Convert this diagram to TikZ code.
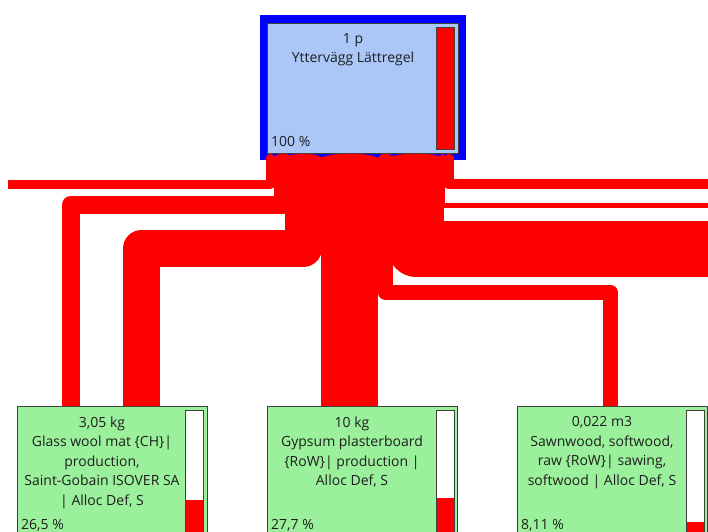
\documentclass[tikz,border=0pt]{standalone}
\usepackage{fontspec}
\setmainfont{Open Sans}
\definecolor{fred}{RGB}{255,0,0}
\definecolor{bblue}{RGB}{0,0,255}
\definecolor{topfill}{RGB}{170,199,248}
\definecolor{boxgreen}{RGB}{155,240,155}
\definecolor{edge}{RGB}{64,64,64}
\definecolor{txt}{RGB}{30,30,30}
\tikzset{
  flow/.style={draw=fred, line join=round, line cap=butt},
  gbox/.style={draw=edge, line width=0.9pt, fill=boxgreen, minimum width=190pt, minimum height=134pt, anchor=north west, inner sep=0pt, outer sep=0pt},
  barbox/.style={draw=edge, line width=0.9pt, fill=white, minimum width=18pt, minimum height=122pt, anchor=north west, inner sep=0pt, outer sep=0pt,
    path picture={\fill[fred] (path picture bounding box.south west) rectangle ([yshift=#1]path picture bounding box.south east);}},
  lbl/.style={font=\fontsize{14}{19.5}\selectfont, align=center, anchor=north, inner sep=0pt, text=txt},
  pct/.style={font=\fontsize{14}{15}\selectfont, anchor=base west, inner sep=0pt, text=txt}
}
\begin{document}
\begin{tikzpicture}[x=1pt,y=-1pt]
\useasboundingbox (0,0) rectangle (708,531);
\clip (0,0) rectangle (708,531);
% top process
\node[fill=bblue, minimum width=206pt, minimum height=145pt, anchor=north west, inner sep=0pt, outer sep=0pt] (topouter) at (260,15) {};
\node[draw=edge, line width=0.9pt, fill=topfill, minimum width=191pt, minimum height=130pt, anchor=north west, inner sep=0pt, outer sep=0pt] (top) at (267,23) {};
\node[barbox=122pt] (topbar) at (436,27) {};
\node[lbl] (toptxt) at (353,33) {1 p\\Yttervägg Lättregel};
\node[pct] (toppct) at (271,146) {100 \%};
% flow start coordinates
\coordinate (l1) at (270.5,158);
\coordinate (l2) at (283,158);
\coordinate (l3) at (303,158);
\coordinate (g0) at (349.5,158);
\coordinate (s0) at (385.5,158);
\coordinate (rb) at (416,158);
\coordinate (r2) at (442,158);
\coordinate (r1) at (448.5,158);
\coordinate (l1end) at (8,184);
\coordinate (rbend) at (716,249);
\coordinate (r2end) at (716,205);
\coordinate (r1end) at (716,184);
% lower processes
\node[gbox] (glass) at (17,406) {};
\node[gbox] (gyp) at (267,406) {};
\node[gbox] (sawn) at (517,406) {};
% flows
\draw[flow, line width=9pt] (l1) -- (l1 |- l1end) -- (l1end);
\draw[flow, line width=18pt] (l2) -- (283,205) -- (70.5,205) -- (70.5,0 |- glass.north);
\draw[flow, line width=37pt] (l3) -- (303,248.5) -- (141.5,248.5) -- (141.5,0 |- glass.north);
\draw[flow, line width=57pt] (g0) -- (g0 |- gyp.north);
\draw[flow, line width=15pt] (s0) -- (385.5,292.5) -- (610.5,292.5) -- (610.5,0 |- sawn.north);
\draw[flow, line width=56pt] (rb) -- (rb |- rbend) -- (rbend);
\draw[flow, line width=5pt] (r2) -- (r2 |- r2end) -- (r2end);
\draw[flow, line width=10pt] (r1) -- (r1 |- r1end) -- (r1end);
\foreach \a/\b in {266/275, 274/292, 284.5/321.5, 321/378, 378/393, 388/444, 439.5/444.5, 443.5/453.5}
  \fill[fred] (\a,158.5) .. controls (\a,152) and (\b,152) .. (\b,158.5) -- cycle;
% redraw lower boxes over flow ends
\node[gbox] (glassb) at (17,406) {};
\node[gbox] (gypb) at (267,406) {};
\node[gbox] (sawnb) at (517,406) {};
\node[barbox=32pt] (glassbar) at (185,410) {};
\node[barbox=34pt] (gypbar) at (436,410) {};
\node[barbox=10pt] (sawnbar) at (686,410) {};
\node[lbl] (glasstxt) at (102,416.5) {3,05 kg\\Glass wool mat \{CH\}|\\production,\\Saint-Gobain ISOVER SA\\| Alloc Def, S};
\node[lbl] (gyptxt) at (352,416.5) {10 kg\\Gypsum plasterboard\\\{RoW\}| production |\\Alloc Def, S};
\node[lbl] (sawntxt) at (602,416.5) {0,022 m3\\Sawnwood, softwood,\\raw \{RoW\}| sawing,\\softwood | Alloc Def, S};
\node[pct] (glasspct) at (21,529) {26,5 \%};
\node[pct] (gyppct) at (271,529) {27,7 \%};
\node[pct] (sawnpct) at (521,529) {8,11 \%};
\end{tikzpicture}
\end{document}
